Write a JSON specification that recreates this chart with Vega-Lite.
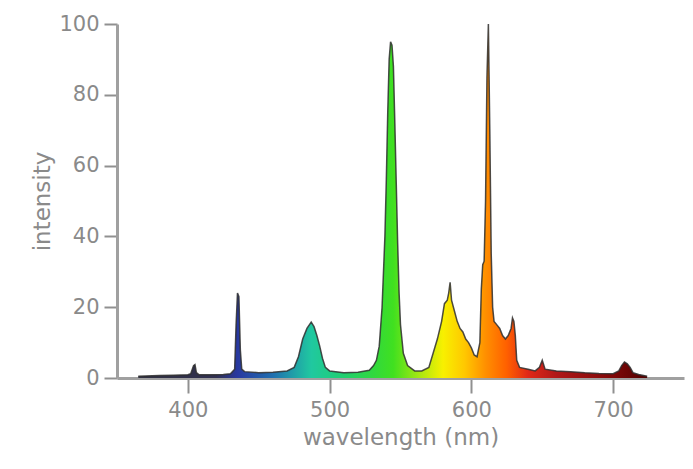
{
  "$schema": "https://vega.github.io/schema/vega-lite/v6.json",
  "width": 567,
  "height": 354,
  "autosize": {"type": "none"},
  "padding": {"left": 117, "top": 24, "right": 9, "bottom": 91},
  "background": "white",
  "config": {
    "view": {"stroke": null},
    "axis": {
      "grid": false,
      "domainColor": "#a0a0a0",
      "domainWidth": 3,
      "tickColor": "#909090",
      "tickWidth": 2,
      "labelColor": "#8a8a8a",
      "labelFont": "DejaVu Sans",
      "labelFontSize": 21,
      "titleColor": "#8a8a8a",
      "titleFont": "DejaVu Sans",
      "titleFontSize": 23,
      "titleFontWeight": "normal"
    }
  },
  "data": {
    "values": [
      {"wl": 365, "I": 0.5}, {"wl": 370, "I": 0.6}, {"wl": 380, "I": 0.7}, {"wl": 390, "I": 0.8},
      {"wl": 400, "I": 0.9}, {"wl": 402, "I": 1.2}, {"wl": 404, "I": 3.5}, {"wl": 405, "I": 3.8},
      {"wl": 406, "I": 1.5}, {"wl": 408, "I": 0.9}, {"wl": 415, "I": 0.9}, {"wl": 425, "I": 1.0},
      {"wl": 430, "I": 1.2}, {"wl": 433, "I": 2.5}, {"wl": 434, "I": 15}, {"wl": 435, "I": 24},
      {"wl": 436, "I": 23}, {"wl": 437, "I": 8}, {"wl": 438, "I": 2.5}, {"wl": 440, "I": 1.8},
      {"wl": 450, "I": 1.5}, {"wl": 460, "I": 1.6}, {"wl": 470, "I": 2.0}, {"wl": 475, "I": 3},
      {"wl": 478, "I": 6}, {"wl": 481, "I": 11}, {"wl": 484, "I": 14}, {"wl": 487, "I": 15.8},
      {"wl": 489, "I": 14.5}, {"wl": 491, "I": 12}, {"wl": 493, "I": 9}, {"wl": 495, "I": 5.5},
      {"wl": 497, "I": 3}, {"wl": 500, "I": 2}, {"wl": 510, "I": 1.5}, {"wl": 520, "I": 1.6},
      {"wl": 528, "I": 2.2}, {"wl": 531, "I": 3.5}, {"wl": 533, "I": 5}, {"wl": 535, "I": 9},
      {"wl": 537, "I": 20}, {"wl": 539, "I": 40}, {"wl": 540, "I": 56}, {"wl": 541, "I": 75},
      {"wl": 542, "I": 90}, {"wl": 543, "I": 95}, {"wl": 544, "I": 94}, {"wl": 545, "I": 88},
      {"wl": 546, "I": 72}, {"wl": 547, "I": 55}, {"wl": 548, "I": 38}, {"wl": 549, "I": 24},
      {"wl": 550, "I": 15}, {"wl": 552, "I": 7}, {"wl": 555, "I": 3.5}, {"wl": 560, "I": 2},
      {"wl": 565, "I": 2}, {"wl": 570, "I": 3}, {"wl": 573, "I": 7}, {"wl": 576, "I": 11},
      {"wl": 579, "I": 16}, {"wl": 581, "I": 21}, {"wl": 583, "I": 22}, {"wl": 584, "I": 24},
      {"wl": 585, "I": 27}, {"wl": 586, "I": 22}, {"wl": 588, "I": 19}, {"wl": 590, "I": 16},
      {"wl": 592, "I": 14}, {"wl": 594, "I": 13}, {"wl": 596, "I": 11}, {"wl": 598, "I": 10},
      {"wl": 600, "I": 8.5}, {"wl": 602, "I": 6.5}, {"wl": 604, "I": 6}, {"wl": 606, "I": 10},
      {"wl": 607, "I": 25}, {"wl": 608, "I": 32}, {"wl": 609, "I": 33}, {"wl": 610, "I": 50},
      {"wl": 611, "I": 85}, {"wl": 612, "I": 100}, {"wl": 613, "I": 70}, {"wl": 614, "I": 35},
      {"wl": 615, "I": 20}, {"wl": 616, "I": 16}, {"wl": 618, "I": 15}, {"wl": 620, "I": 14},
      {"wl": 622, "I": 12}, {"wl": 624, "I": 11}, {"wl": 626, "I": 12}, {"wl": 628, "I": 14},
      {"wl": 629, "I": 17}, {"wl": 630, "I": 16}, {"wl": 631, "I": 12}, {"wl": 632, "I": 5},
      {"wl": 634, "I": 3}, {"wl": 640, "I": 2.5}, {"wl": 645, "I": 2}, {"wl": 648, "I": 3},
      {"wl": 650, "I": 5}, {"wl": 652, "I": 2.5}, {"wl": 660, "I": 2}, {"wl": 670, "I": 1.8},
      {"wl": 680, "I": 1.5}, {"wl": 690, "I": 1.3}, {"wl": 700, "I": 1.2}, {"wl": 704, "I": 2},
      {"wl": 706, "I": 3.5}, {"wl": 708, "I": 4.5}, {"wl": 710, "I": 4}, {"wl": 712, "I": 3},
      {"wl": 714, "I": 1.5}, {"wl": 718, "I": 1}, {"wl": 724, "I": 0.5}
    ]
  },
  "encoding": {
    "x": {
      "field": "wl", "type": "quantitative",
      "scale": {"domain": [350, 750], "nice": false, "zero": false},
      "axis": {"values": [400, 500, 600, 700], "title": "wavelength (nm)", "tickSize": 15, "labelPadding": 6, "titlePadding": 6}
    },
    "y": {
      "field": "I", "type": "quantitative",
      "scale": {"domain": [0, 100], "nice": false},
      "axis": {"values": [0, 20, 40, 60, 80, 100], "title": "intensity", "tickSize": 13, "labelPadding": 5, "titlePadding": 4}
    }
  },
  "layer": [
    {
      "mark": {
        "type": "area",
        "opacity": 1,
        "color": {
          "gradient": "linear",
          "x1": 0, "x2": 1, "y1": 0, "y2": 0,
          "stops": [
            {"offset": 0, "color": "#303040"},
            {"offset": 0.153, "color": "#303050"},
            {"offset": 0.195, "color": "#2838a0"},
            {"offset": 0.265, "color": "#2070b0"},
            {"offset": 0.34, "color": "#20c8a0"},
            {"offset": 0.404, "color": "#20d070"},
            {"offset": 0.46, "color": "#30d840"},
            {"offset": 0.501, "color": "#40e020"},
            {"offset": 0.557, "color": "#b0e810"},
            {"offset": 0.599, "color": "#f8f000"},
            {"offset": 0.641, "color": "#ffc800"},
            {"offset": 0.682, "color": "#ff9000"},
            {"offset": 0.724, "color": "#ff6000"},
            {"offset": 0.766, "color": "#e02818"},
            {"offset": 0.822, "color": "#b01818"},
            {"offset": 0.933, "color": "#800808"},
            {"offset": 1, "color": "#500000"}
          ]
        }
      }
    },
    {
      "mark": {"type": "line", "color": "#2e2e2e", "strokeWidth": 1.5, "opacity": 0.85}
    }
  ]
}
